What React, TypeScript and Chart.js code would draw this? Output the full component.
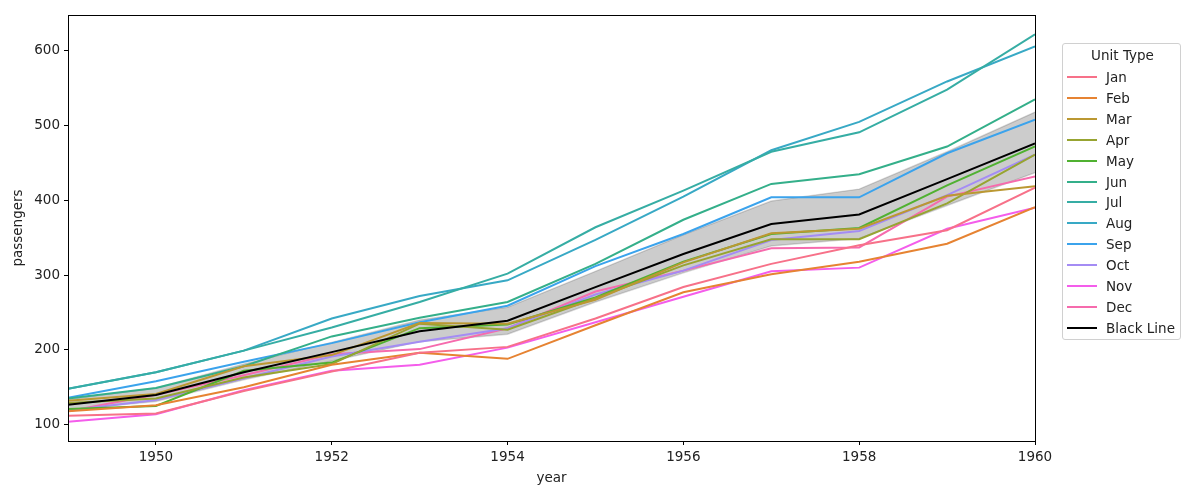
import React, { useEffect, useRef } from "react";
import { Chart, registerables } from "chart.js";

Chart.register(...registerables);

const years = [1949, 1950, 1951, 1952, 1953, 1954, 1955, 1956, 1957, 1958, 1959, 1960];
const months = ["Jan", "Feb", "Mar", "Apr", "May", "Jun", "Jul", "Aug", "Sep", "Oct", "Nov", "Dec"];
const monthColors = ["#f77189", "#e68332", "#bb9832", "#97a431", "#50b131", "#34af8a", "#36ada4", "#38a9c5", "#3ba3ec", "#a48cf4", "#f45deb", "#f66bad"];

const Jan = [112, 115, 145, 171, 196, 204, 242, 284, 315, 340, 360, 417];
const Feb = [118, 126, 150, 180, 196, 188, 233, 277, 301, 318, 342, 391];
const Mar = [132, 141, 178, 193, 236, 235, 267, 317, 356, 362, 406, 419];
const Apr = [129, 135, 163, 181, 235, 227, 269, 313, 348, 348, 396, 461];
const May = [121, 125, 172, 183, 229, 234, 270, 318, 355, 363, 420, 472];
const Jun = [135, 149, 178, 218, 243, 264, 315, 374, 422, 435, 472, 535];
const Jul = [148, 170, 199, 230, 264, 302, 364, 413, 465, 491, 548, 622];
const Aug = [148, 170, 199, 242, 272, 293, 347, 405, 467, 505, 559, 606];
const Sep = [136, 158, 184, 209, 237, 259, 312, 355, 404, 404, 463, 508];
const Oct = [119, 133, 162, 191, 211, 229, 274, 306, 347, 359, 407, 461];
const Nov = [104, 114, 146, 172, 180, 203, 237, 271, 305, 310, 362, 390];
const Dec = [118, 140, 166, 194, 201, 229, 278, 306, 336, 337, 405, 432];
const monthSeries = [Jan, Feb, Mar, Apr, May, Jun, Jul, Aug, Sep, Oct, Nov, Dec];

const meanLine = [126.67, 139.67, 170.17, 197.0, 225.0, 238.92, 284.0, 328.25, 368.42, 381.0, 428.33, 476.17];
const bandLow = [120, 131, 160, 185, 211, 221, 264, 303, 339, 349, 393, 437];
const bandHigh = [134, 149, 181, 210, 240, 257, 305, 354, 399, 415, 465, 518];

const xTicks = [1950, 1952, 1954, 1956, 1958, 1960];
const yTicks = [100, 200, 300, 400, 500, 600];

const FONT = "'DejaVu Sans', sans-serif";

const framePlugin = {
  id: "frame",
  afterDraw(chart: any) {
    const { ctx, chartArea } = chart;
    ctx.save();
    ctx.strokeStyle = "#000";
    ctx.lineWidth = 1;
    ctx.strokeRect(Math.round(chartArea.left) + 0.5, Math.round(chartArea.top) + 0.5, Math.round(chartArea.right - chartArea.left), Math.round(chartArea.bottom - chartArea.top));
    ctx.restore();
  },
};

export default function App() {
  const ref = useRef<HTMLCanvasElement>(null);
  useEffect(() => {
    document.body.style.margin = "0";
    const pts = (arr: number[]) => arr.map((v, i) => ({ x: years[i], y: v }));
    const datasets: any[] = [];
    datasets.push({
      label: "Black Line",
      data: pts(meanLine),
      borderColor: "#000000",
      borderWidth: 2,
      pointRadius: 0,
      order: 0,
      tension: 0,
    });
    monthSeries.forEach((s, i) => {
      datasets.push({
        label: months[i],
        data: pts(s),
        borderColor: monthColors[i],
        borderWidth: 2,
        pointRadius: 0,
        order: 1 + i,
        tension: 0,
      });
    });
    datasets.push({
      label: "bandLow",
      data: pts(bandLow),
      borderColor: "rgba(0,0,0,0.15)",
      borderWidth: 1.5,
      pointRadius: 0,
      order: 100,
      fill: false,
    });
    datasets.push({
      label: "bandHigh",
      data: pts(bandHigh),
      borderColor: "rgba(0,0,0,0.15)",
      borderWidth: 1.5,
      pointRadius: 0,
      order: 101,
      fill: "-1",
      backgroundColor: "rgba(0,0,0,0.2)",
    });

    const chart = new Chart(ref.current!, {
      type: "line",
      data: { datasets },
      plugins: [framePlugin],
      options: {
        animation: false,
        responsive: false,
        maintainAspectRatio: false,
        layout: { padding: { left: 0, right: 153, top: 15, bottom: 0 } },
        plugins: {
          legend: { display: false },
          tooltip: { enabled: false },
        },
        scales: {
          x: {
            type: "linear",
            min: 1949,
            max: 1960,
            afterBuildTicks: (scale: any) => {
              scale.ticks = xTicks.map((v) => ({ value: v }));
            },
            afterFit: (scale: any) => {
              scale.height = 54;
            },
            grid: { drawOnChartArea: false, drawTicks: true, tickLength: 4, color: "#000" },
            border: { color: "#000", width: 1 },
            ticks: { color: "#222", font: { family: FONT, size: 13.5 }, padding: 4, maxRotation: 0, callback: (v: any) => String(v) },
            title: { display: true, text: "year", color: "#222", font: { family: FONT, size: 13.5 }, padding: { top: 2, bottom: 8 } },
          },
          y: {
            type: "linear",
            min: 78.1,
            max: 647.9,
            afterBuildTicks: (scale: any) => {
              scale.ticks = yTicks.map((v) => ({ value: v }));
            },
            afterFit: (scale: any) => {
              scale.width = 68;
            },
            grid: { drawOnChartArea: false, drawTicks: true, tickLength: 4, color: "#000" },
            border: { color: "#000", width: 1 },
            ticks: { color: "#222", font: { family: FONT, size: 13.5 }, padding: 4, callback: (v: any) => String(v) },
            title: { display: true, text: "passengers", color: "#222", font: { family: FONT, size: 13.5 }, padding: { top: 10, bottom: 4 } },
          },
        },
      },
    });
    return () => chart.destroy();
  }, []);

  const legendItems = [...months.map((m, i) => ({ label: m, color: monthColors[i] })), { label: "Black Line", color: "#000" }];

  return (
    <div style={{ position: "relative", width: 1188, height: 495, background: "#fff", fontFamily: FONT }}>
      <canvas ref={ref} width={1188} height={495} style={{ position: "absolute", left: 0, top: 0, width: 1188, height: 495 }} />
      <div
        style={{
          position: "absolute",
          left: 1062,
          top: 43,
          width: 119,
          height: 297,
          border: "1px solid #d0d0d0",
          borderRadius: 3,
          background: "rgba(255,255,255,0.8)",
          boxSizing: "border-box",
        }}
      >
        <div style={{ position: "absolute", left: 0, width: 119, top: 3, textAlign: "center", fontSize: 13.5, color: "#222", lineHeight: "16px" }}>
          Unit Type
        </div>
        {legendItems.map((it, i) => (
          <div key={it.label} style={{ position: "absolute", left: 0, top: 25 + i * 20.9, height: 16, width: 119 }}>
            <div style={{ position: "absolute", left: 4, top: 7, width: 30, height: 2, background: it.color }} />
            <div style={{ position: "absolute", left: 43, top: 0, fontSize: 13.5, color: "#222", lineHeight: "16px", whiteSpace: "nowrap" }}>
              {it.label}
            </div>
          </div>
        ))}
      </div>
    </div>
  );
}
